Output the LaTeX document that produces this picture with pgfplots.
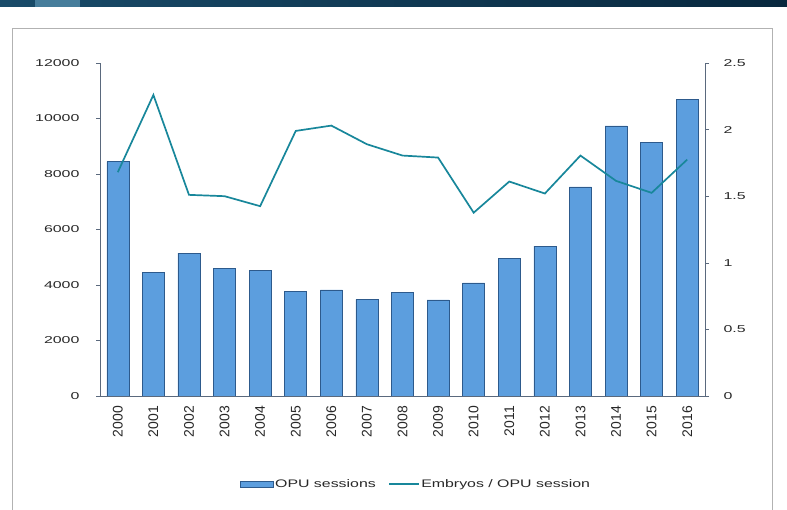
\documentclass[border=0pt]{standalone}
\usepackage{pgfplots}
\pgfplotsset{compat=1.18}
\usepackage{fontspec}
\setmainfont{Liberation Sans}
\definecolor{barfill}{RGB}{92,158,222}
\definecolor{baredge}{RGB}{45,90,140}
\definecolor{linec}{RGB}{24,135,155}
\definecolor{axc}{RGB}{90,105,125}
\definecolor{bandL}{RGB}{25,75,105}
\definecolor{bandR}{RGB}{8,40,62}
\definecolor{bandP}{RGB}{70,125,155}
\definecolor{txt}{RGB}{40,40,40}
\begin{document}
\begin{tikzpicture}[x=1bp,y=1bp]
\path[use as bounding box, fill=white] (0,0) rectangle (787,510);
\shade[left color=bandL, right color=bandR] (0,503) rectangle (787,510);
\fill[bandP] (35,503) rectangle (80,510);
\draw[gray!60, line width=0.8bp] (12,-2) -- (12,482) -- (772,482) -- (772,-2);
\begin{axis}[
  at={(100bp,114bp)}, anchor=south west,
  scale only axis, width=605bp, height=333bp,
  xmin=-0.5, xmax=16.5, ymin=0, ymax=12000,
  ytick={0,2000,4000,6000,8000,10000,12000},
  scaled y ticks=false,
  yticklabel={\scalebox{1.6}[1]{\pgfmathprintnumber[1000 sep={}]{\tick}}},
  yticklabel style={font=\fontsize{10}{12}\selectfont, text=txt, xshift=-13bp},
  xtick={0,...,16},
  xticklabels={2000,2001,2002,2003,2004,2005,2006,2007,2008,2009,2010,2011,2012,2013,2014,2015,2016},
  xticklabel style={rotate=90, anchor=east, font=\fontsize{14}{16}\selectfont, text=txt, inner sep=6bp},
  x tick style={draw=none},
  minor xtick={0.5,1.5,...,15.5},
  minor tick length=4bp,
  tick align=outside,
  /pgf/number format/assume math mode=true,
  axis y line*=left, axis x line*=bottom,
  axis line style={axc, line width=0.8bp},
  tick style={axc},
  major tick length=4bp,
  ytick pos=left, xtick pos=bottom,
  legend style={at={(0.522,-0.264)}, anchor=center, draw=none, legend columns=2,
    font=\fontsize{11}{13}\selectfont, text=txt, nodes={inner sep=1.5bp},
    /tikz/every even column/.append style={column sep=11bp}},
  legend image code/.code={\draw[#1] (0bp,-3bp) rectangle (33bp,3bp);},
]
\addplot[ybar, bar width=22bp, fill=barfill, draw=baredge, line width=0.5bp] coordinates {
(0,8450) (1,4450) (2,5150) (3,4600) (4,4540) (5,3780) (6,3820) (7,3480) (8,3740)
(9,3460) (10,4080) (11,4960) (12,5400) (13,7540) (14,9730) (15,9130) (16,10690)};
\addlegendentry{\scalebox{1.45}[1]{OPU sessions}}
\addlegendimage{legend image code/.code={\draw[linec, line width=1.5bp] (0bp,0bp) -- (30bp,0bp);}}
\addlegendentry{\scalebox{1.45}[1]{Embryos / OPU session}}
\end{axis}
\begin{axis}[
  at={(100bp,114bp)}, anchor=south west,
  scale only axis, width=605bp, height=333bp,
  xmin=-0.5, xmax=16.5, ymin=0, ymax=2.5,
  ytick={0,0.5,1,1.5,2,2.5},
  axis y line*=right, axis x line=none,
  axis line style={axc, line width=0.8bp},
  tick style={axc},
  tick align=outside,
  major tick length=4bp,
  /pgf/number format/assume math mode=true,
  yticklabel={\scalebox{1.6}[1]{\pgfmathprintnumber{\tick}}},
  yticklabel style={font=\fontsize{10}{12}\selectfont, text=txt, xshift=11bp},
]
\addplot[linec, line width=1.7bp, mark=none] coordinates {
(0,1.68) (1,2.26) (2,1.51) (3,1.50) (4,1.425) (5,1.99) (6,2.03) (7,1.89) (8,1.805)
(9,1.79) (10,1.376) (11,1.61) (12,1.52) (13,1.805) (14,1.615) (15,1.525) (16,1.775)};
\end{axis}
\end{tikzpicture}
\end{document}
